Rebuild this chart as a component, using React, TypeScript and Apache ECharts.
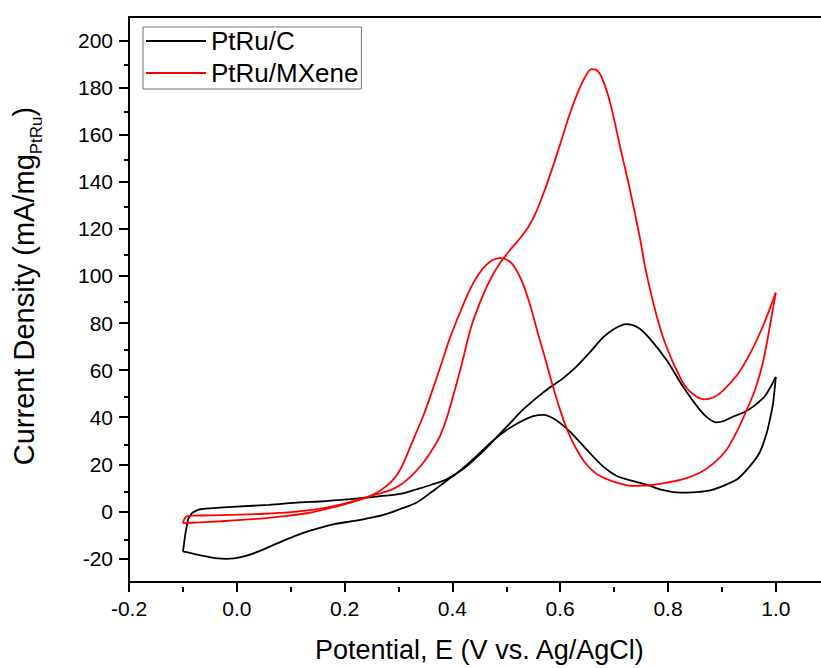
import { useEffect, useRef } from 'react';
import * as echarts from 'echarts';

const FONT = '"Liberation Sans", Arial, Helvetica, sans-serif';

// Axis ticks
const xTicks = [-0.2, 0, 0.2, 0.4, 0.6, 0.8, 1.0];
const xMinorTicks = [-0.1, 0.1, 0.3, 0.5, 0.7, 0.9];
const yTicks = [-20, 0, 20, 40, 60, 80, 100, 120, 140, 160, 180, 200];
const yMinorTicks = [-10, 10, 30, 50, 70, 90, 110, 130, 150, 170, 190];

const seriesNames = ['PtRu/C', 'PtRu/MXene'];

// PtRu/C – anodic (forward) scan
const cFwdX = [-0.100, -0.098, -0.096, -0.093, -0.090, -0.085, -0.081, -0.075, -0.068, -0.050, 0.000, 0.060, 0.117, 0.154, 0.210, 0.260, 0.303, 0.334, 0.360, 0.389, 0.420, 0.450, 0.480, 0.505, 0.530, 0.555, 0.580, 0.605, 0.630, 0.655, 0.680, 0.700, 0.723, 0.745, 0.767, 0.798, 0.828, 0.859, 0.875, 0.890, 0.905, 0.921, 0.940, 0.958, 0.980, 1.000];
const cFwdY = [-17.0, -14.0, -10.4, -6.5, -3.2, -1.3, -0.4, 0.3, 0.9, 1.3, 2.0, 2.8, 3.8, 4.2, 5.2, 6.3, 7.4, 9.4, 11.2, 13.6, 18.0, 24.0, 31.0, 37.0, 43.0, 48.0, 52.5, 56.5, 61.5, 67.5, 74.0, 77.5, 79.5, 78.0, 73.2, 64.1, 52.9, 43.1, 39.5, 37.8, 38.5, 40.3, 42.0, 44.5, 49.0, 57.1];
// PtRu/C – cathodic (reverse) scan
const cRevX = [1.000, 0.995, 0.990, 0.983, 0.970, 0.952, 0.930, 0.909, 0.880, 0.859, 0.835, 0.810, 0.785, 0.767, 0.750, 0.730, 0.705, 0.680, 0.650, 0.620, 0.600, 0.585, 0.570, 0.550, 0.530, 0.500, 0.470, 0.440, 0.415, 0.389, 0.360, 0.334, 0.303, 0.272, 0.230, 0.179, 0.136, 0.105, 0.075, 0.043, 0.015, -0.005, -0.019, -0.035, -0.060, -0.100];
const cRevY = [57.1, 46.0, 40.0, 33.2, 25.0, 19.2, 14.0, 11.5, 9.0, 8.3, 8.0, 8.2, 9.3, 10.8, 12.0, 13.2, 15.0, 19.0, 26.0, 33.5, 37.5, 39.8, 41.0, 40.5, 38.5, 34.5, 29.0, 22.5, 17.5, 13.0, 8.0, 3.8, 1.0, -1.5, -3.6, -5.5, -8.2, -10.7, -13.6, -16.8, -19.0, -20.0, -20.2, -20.0, -19.0, -17.0];

// PtRu/MXene – anodic (forward) scan
const mFwdX = [-0.100, -0.098, -0.094, -0.088, -0.080, -0.050, 0.000, 0.050, 0.100, 0.150, 0.200, 0.229, 0.260, 0.285, 0.303, 0.318, 0.330, 0.343, 0.355, 0.366, 0.377, 0.390, 0.405, 0.420, 0.435, 0.457, 0.475, 0.490, 0.505, 0.520, 0.540, 0.555, 0.570, 0.585, 0.600, 0.615, 0.631, 0.645, 0.658, 0.670, 0.682, 0.695, 0.711, 0.729, 0.748, 0.757, 0.767, 0.775, 0.782, 0.790, 0.798, 0.807, 0.815, 0.830, 0.848, 0.866, 0.885, 0.903, 0.930, 0.952, 0.975, 1.000];
const mFwdY = [-5.0, -3.6, -2.3, -1.9, -1.8, -1.7, -1.4, -1.0, -0.3, 1.0, 3.3, 5.2, 7.3, 9.0, 11.2, 13.8, 16.5, 19.8, 23.5, 27.5, 32.0, 40.0, 52.0, 65.0, 78.5, 92.0, 100.5, 106.0, 110.5, 114.5, 120.5, 127.0, 135.7, 145.5, 156.0, 167.0, 177.0, 184.0, 187.9, 187.0, 181.5, 171.5, 155.0, 137.0, 116.0, 104.5, 94.0, 86.5, 80.5, 74.5, 69.5, 64.5, 60.5, 53.8, 49.5, 47.6, 48.5, 51.5, 58.5, 66.9, 78.0, 92.9];
// PtRu/MXene – cathodic (reverse) scan
const mRevX = [1.000, 0.990, 0.977, 0.962, 0.946, 0.928, 0.909, 0.885, 0.859, 0.830, 0.798, 0.767, 0.750, 0.736, 0.720, 0.705, 0.690, 0.674, 0.660, 0.645, 0.630, 0.615, 0.600, 0.586, 0.572, 0.557, 0.545, 0.532, 0.520, 0.510, 0.500, 0.488, 0.475, 0.462, 0.448, 0.432, 0.415, 0.396, 0.380, 0.360, 0.345, 0.333, 0.322, 0.312, 0.300, 0.288, 0.275, 0.260, 0.245, 0.220, 0.180, 0.130, 0.080, 0.030, -0.030, -0.070, -0.100];
const mRevY = [92.9, 80.0, 64.1, 52.0, 43.1, 34.0, 26.3, 20.5, 16.4, 13.8, 12.2, 11.1, 10.9, 10.8, 11.3, 12.2, 13.4, 15.0, 17.3, 21.0, 26.5, 33.5, 43.0, 53.5, 65.0, 77.0, 87.0, 96.0, 102.0, 105.3, 107.0, 107.6, 106.8, 104.5, 100.5, 94.0, 85.0, 74.0, 63.0, 49.5, 40.0, 33.5, 27.5, 22.0, 16.5, 13.0, 10.3, 8.0, 6.3, 4.4, 1.8, -0.8, -2.2, -3.3, -4.2, -4.7, -5.0];

const zip = (xs: number[], ys: number[]) => xs.map((x, i) => [x, ys[i]]);

const X_MIN = -0.2;
const X_MAX = 1.1;
const Y_MIN = -30;
const Y_MAX = 210;

export default function App() {
  const ref = useRef<HTMLDivElement>(null);

  useEffect(() => {
    if (!ref.current) return;
    const chart = echarts.init(ref.current, null, { renderer: 'svg' });
    const axisColor = '#000';
    const lineSeries = (name: string, data: number[][], color: string) => ({
      name,
      type: 'line',
      xAxisIndex: 0,
      yAxisIndex: 0,
      data,
      symbol: 'none',
      smooth: 0.3,
      lineStyle: { color, width: 1.8 },
      itemStyle: { color },
      emphasis: { disabled: true },
    });

    chart.setOption({
      animation: false,
      backgroundColor: '#fff',
      textStyle: { fontFamily: FONT },
      grid: [
        { left: 129, top: 17, width: 700.7, height: 570 },
        { left: 129, top: 17, width: 700.7, height: 570 },
      ],
      xAxis: [
        {
          type: 'value',
          gridIndex: 0,
          position: 'bottom',
          min: X_MIN,
          max: X_MAX,
          axisLine: { show: true, onZero: false, lineStyle: { color: axisColor, width: 2 } },
          axisTick: { show: true, customValues: xTicks, length: 10, lineStyle: { color: axisColor, width: 2 } },
          axisLabel: {
            customValues: xTicks,
            formatter: (v: number) => v.toFixed(1),
            fontSize: 21,
            color: '#000',
            margin: 16,
            fontFamily: FONT,
          },
          splitLine: { show: false },
          name: 'Potential, E (V vs. Ag/AgCl)',
          nameLocation: 'middle',
          nameGap: 54,
          nameTextStyle: { fontSize: 27, color: '#000', fontFamily: FONT },
        },
        {
          type: 'value',
          gridIndex: 0,
          position: 'top',
          min: X_MIN,
          max: X_MAX,
          axisLine: { show: true, onZero: false, lineStyle: { color: axisColor, width: 2 } },
          axisTick: { show: false },
          axisLabel: { show: false },
          splitLine: { show: false },
        },
        {
          type: 'value',
          gridIndex: 1,
          position: 'bottom',
          min: X_MIN,
          max: X_MAX,
          axisLine: { show: false, onZero: false },
          axisTick: { show: true, customValues: xMinorTicks, length: 5, lineStyle: { color: axisColor, width: 2 } },
          axisLabel: { show: false },
          splitLine: { show: false },
        },
      ],
      yAxis: [
        {
          type: 'value',
          gridIndex: 0,
          position: 'left',
          min: Y_MIN,
          max: Y_MAX,
          axisLine: { show: true, onZero: false, lineStyle: { color: axisColor, width: 2 } },
          axisTick: { show: true, customValues: yTicks, length: 10, lineStyle: { color: axisColor, width: 2 } },
          axisLabel: {
            customValues: yTicks,
            fontSize: 21,
            color: '#000',
            margin: 16,
            fontFamily: FONT,
          },
          splitLine: { show: false },
        },
        {
          type: 'value',
          gridIndex: 1,
          position: 'left',
          min: Y_MIN,
          max: Y_MAX,
          axisLine: { show: false, onZero: false },
          axisTick: { show: true, customValues: yMinorTicks, length: 5, lineStyle: { color: axisColor, width: 2 } },
          axisLabel: { show: false },
          splitLine: { show: false },
        },
      ],
      legend: {
        data: seriesNames,
        orient: 'vertical',
        left: 143,
        top: 27,
        icon: 'rect',
        itemWidth: 60,
        itemHeight: 2,
        itemGap: 6,
        padding: [1, 3, 3, 3],
        borderColor: '#777',
        borderWidth: 1,
        selectedMode: false,
        textStyle: { fontSize: 26, color: '#000', fontFamily: FONT },
      },
      graphic: [
        {
          type: 'text',
          x: 24,
          y: 286,
          rotation: Math.PI / 2,
          style: {
            text: 'Current Density (mA/mg{sub|PtRu})',
            fontSize: 29,
            fontFamily: FONT,
            fill: '#000',
            align: 'center',
            verticalAlign: 'middle',
            lineHeight: 42,
            rich: {
              sub: { fontSize: 17, fontFamily: FONT, fill: '#000', verticalAlign: 'bottom' },
            },
          },
        },
      ],
      series: [
        lineSeries(seriesNames[0], zip(cFwdX, cFwdY), '#000000'),
        lineSeries(seriesNames[0], zip(cRevX, cRevY), '#000000'),
        lineSeries(seriesNames[1], zip(mFwdX, mFwdY), '#ff0000'),
        lineSeries(seriesNames[1], zip(mRevX, mRevY), '#ff0000'),
      ],
    });

    return () => chart.dispose();
  }, []);

  return (
    <div style={{ position: 'fixed', left: 0, top: 0, width: 821, height: 668, overflow: 'hidden', background: '#fff' }}>
      <div ref={ref} style={{ width: 900, height: 668 }} />
    </div>
  );
}
